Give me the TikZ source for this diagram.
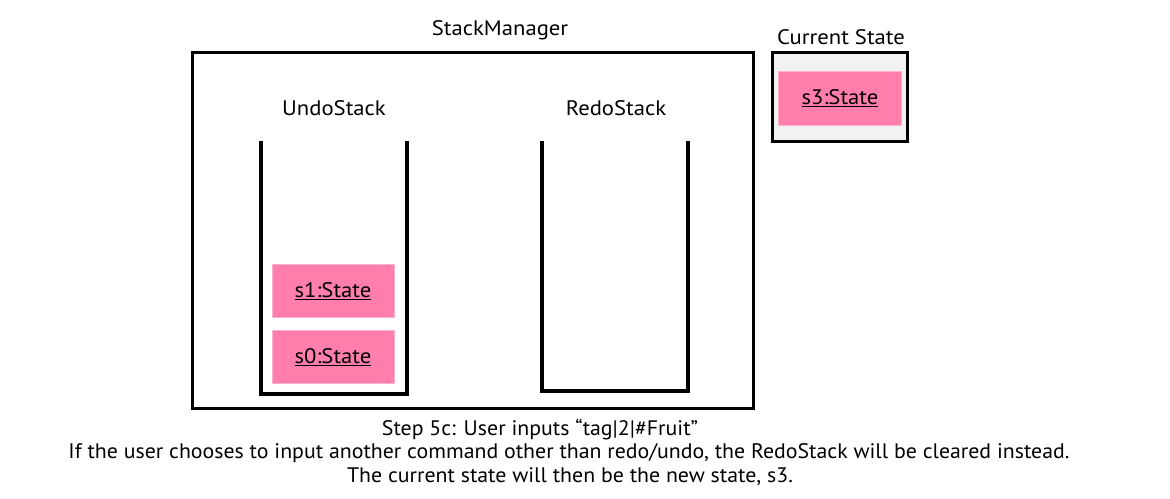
\documentclass[tikz,border=0pt]{standalone}
\usepackage{fontspec}
\setmainfont{PT Sans}
\definecolor{statepink}{HTML}{FF7EAC}
\definecolor{curgray}{HTML}{F2F2F2}
\newcommand{\wtxt}[1]{\scalebox{1.08}[1]{#1}}
\newcommand{\ctxt}[1]{\scalebox{1.04}[1]{#1}}
\begin{document}
\begin{tikzpicture}[x=1pt,y=-1pt,
  lbl/.style={inner sep=0pt, font=\fontsize{21}{24}\selectfont},
  statebox/.style={fill=statepink, draw=statepink!60!white, line width=0.6pt, minimum width=122pt, minimum height=53pt, inner sep=0pt, font=\fontsize{21}{24}\selectfont},
  frame/.style={draw=black, line width=3pt},
  stackwall/.style={draw=black, line width=4pt}]
\useasboundingbox (0,0) rectangle (1170,498);
% StackManager
\node[lbl] (smlabel) at (500,30) {\wtxt{StackManager}};
\node[frame, minimum width=561pt, minimum height=356pt, inner sep=0pt] (sm) at (472.5,230) {};
% Current state
\node[lbl] (cslabel) at (841,37) {\wtxt{Current State}};
\node[frame, fill=curgray, minimum width=135pt, minimum height=89pt, inner sep=0pt] (cs) at (840,97) {};
\node[statebox, minimum width=123pt, minimum height=54pt] (s3) at (840,98) {\wtxt{\underline{s3:State}}};
% Undo stack
\node[lbl] (undolabel) at (334,108) {\wtxt{UndoStack}};
\coordinate (u1) at (261,141);
\coordinate (u2) at (261,394);
\coordinate (u3) at (407,394);
\coordinate (u4) at (407,141);
\draw[stackwall] (u1) -- (u2) -- (u3) -- (u4);
\node[statebox] (s1) at (333,291) {\wtxt{\underline{s1:State}}};
\node[statebox] (s0) at (333,357) {\wtxt{\underline{s0:State}}};
% Redo stack
\node[lbl] (redolabel) at (616,108) {\wtxt{RedoStack}};
\coordinate (r1) at (542,141);
\coordinate (r2) at (542,391);
\coordinate (r3) at (688,391);
\coordinate (r4) at (688,141);
\draw[stackwall] (r1) -- (r2) -- (r3) -- (r4);
% Caption
\node[lbl] (cap1) at (540,430) {\ctxt{Step 5c: User inputs “tag|2|\#Fruit”}};
\node[lbl] (cap2) at (569,453) {\ctxt{If the user chooses to input another command other than redo/undo, the RedoStack will be cleared instead.}};
\node[lbl] (cap3) at (570,477) {\ctxt{The current state will then be the new state, s3.}};
\end{tikzpicture}
\end{document}
